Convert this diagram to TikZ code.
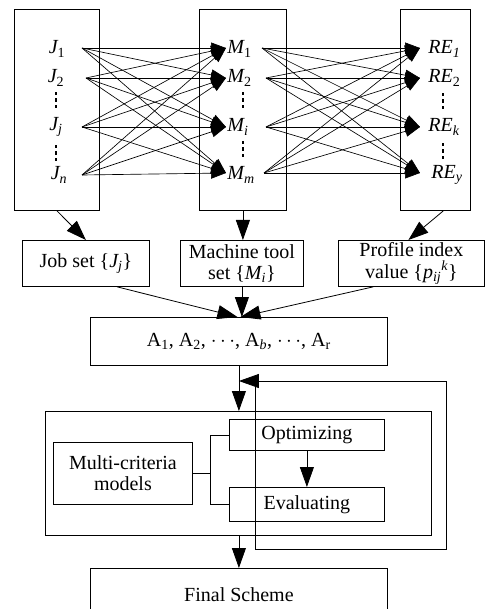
\documentclass[tikz,border=0pt]{standalone}
\usepackage{fontspec}
\setmainfont{Liberation Serif}
\usetikzlibrary{arrows.meta,calc}
% three stacked square dots (vertical ellipsis)
\newcommand\vdotmark[2]{%
  \foreach \dy in {-6.5,0,6.5}{\fill (#1-1.4,#2+\dy-1.6) rectangle (#1+1.4,#2+\dy+1.6);}}
\begin{document}
\begin{tikzpicture}[x=1pt,y=-1pt,
  every path/.style={line width=0.8pt},
  box/.style={draw,line width=0.8pt,inner sep=0pt,anchor=north west,
    font=\fontsize{20}{21.5}\selectfont,align=center},
  lbl/.style={inner sep=0pt,font=\fontsize{20}{22}\selectfont},
  cross/.style={-{Triangle[length=15pt,width=11pt]}},
  big/.style={-{Triangle[length=20pt,width=14pt]}}]
\useasboundingbox (0,0) rectangle (485,609);

% ---- sets of jobs, machines and profile elements
\node[box,minimum width=85pt,minimum height=201pt] (jbox) at (14,9) {};
\node[box,minimum width=87pt,minimum height=201pt] (mbox) at (199,9) {};
\node[box,minimum width=70pt,minimum height=201pt] (rbox) at (400,9) {};

\node[lbl] (j1) at (57,49) {{\itshape J}\textsubscript{1}};
\node[lbl] (j2) at (56,78) {{\itshape J}\textsubscript{2}};
\node[lbl] (jj) at (56,127) {{\itshape J}\textsubscript{\itshape j}};
\node[lbl] (jn) at (59,175) {{\itshape J}\textsubscript{\itshape n}};
\vdotmark{56}{100}
\vdotmark{56}{153}

\node[lbl,anchor=west] (m1) at (227,49) {{\itshape M}\textsubscript{1}};
\node[lbl,anchor=west] (m2) at (227,78) {{\itshape M}\textsubscript{2}};
\node[lbl,anchor=west] (mi) at (227,127) {{\itshape M}\textsubscript{\itshape i}};
\node[lbl,anchor=west] (mm) at (227,175) {{\itshape M}\textsubscript{\itshape m}};
\vdotmark{243}{100}
\vdotmark{243}{149}

\node[lbl,anchor=west] (r1) at (428,49) {{\itshape RE}\textsubscript{\itshape 1}};
\node[lbl,anchor=west] (r2) at (428,78) {{\itshape RE}\textsubscript{2}};
\node[lbl,anchor=west] (rk) at (428,127) {{\itshape RE}\textsubscript{\itshape k}};
\node[lbl,anchor=west] (ry) at (431,175) {{\itshape RE}\textsubscript{\itshape y}};
\vdotmark{443}{101}
\vdotmark{443}{151}

% connector end points
\coordinate (ja) at (82,48);  \coordinate (jb) at (86,78);
\coordinate (jc) at (82,127); \coordinate (jd) at (82,175);
\coordinate (ma) at (226,48); \coordinate (mb) at (226,78);
\coordinate (mc) at (226,127);\coordinate (md) at (226,173);
\coordinate (na) at (262,48); \coordinate (nb) at (266,78);
\coordinate (nc) at (266,127);\coordinate (nd) at (264,173);
\coordinate (ra) at (420,48); \coordinate (rb) at (420,78);
\coordinate (rc) at (420,127);\coordinate (rd) at (420,173);

\foreach \s in {ja,jb,jc,jd}
  \foreach \t in {ma,mb,mc,md}
    \draw[cross,line width=0.65pt] (\s) -- (\t);
\foreach \s in {na,nb,nc,nd}
  \foreach \t in {ra,rb,rc,rd}
    \draw[cross,line width=0.65pt] (\s) -- (\t);

% ---- summary boxes
\node[box,minimum width=127pt,minimum height=46pt] (job) at (22,240) {};
\node at (job.center) [font=\fontsize{20}{21.5}\selectfont] {Job set \{{\itshape J}\textsubscript{\itshape j}\}};
\node[box,minimum width=123pt,minimum height=46pt] (mach) at (180,240) {};
\node at (mach.center) [font=\fontsize{20}{21.5}\selectfont,align=center] {Machine tool\\set \{{\itshape M}\textsubscript{\itshape i}\}};
\node[box,minimum width=146pt,minimum height=46pt] (prof) at (338,240) {};
\node at (prof.center) [font=\fontsize{20}{21.5}\selectfont,align=center] {Profile index\\value \{{\itshape p}\textsubscript{\itshape ij}\textsuperscript{\itshape k}\}};

\draw[big] (jbox.south) -- (job.north);
\draw[big] (mbox.south) -- (mbox.south |- mach.north);
\draw[big] ($(rbox.south)+(8,0)$) -- ($(prof.north)+(-3,0)$);

% ---- alternatives
\node[box,minimum width=297pt,minimum height=48pt] (abox) at (90,317) {};
\node at (abox.center) [font=\fontsize{20}{21.5}\selectfont]
  {A\textsubscript{1}, A\textsubscript{2}, $\cdots$, A\textsubscript{\itshape b}, $\cdots$, A\textsubscript{r}};

\draw[big] ($(job.south)+(31,0)$) -- ($(abox.north)+(-1.5,0)$);
\draw[big] (mach.south) -- (mach.south |- abox.north);
\draw[big] ($(prof.south)+(-38,0)$) -- ($(abox.north)+(1.5,0)$);

% ---- decision block
\node[box,minimum width=386pt,minimum height=124pt] (outer) at (45,411) {};
\node[box,minimum width=139pt,minimum height=62pt] (multi) at (53,442) {};
\node at (multi.center) [font=\fontsize{20}{21.5}\selectfont,align=center] {Multi-criteria\\models};
\node[box,minimum width=155pt,minimum height=31pt] (opt) at (229,419) {};
\node at (opt.center) [font=\fontsize{20}{21.5}\selectfont] {Optimizing};
\node[box,minimum width=155pt,minimum height=34pt] (eval) at (229,487) {};
\node at (eval.center) [font=\fontsize{20}{21.5}\selectfont] {Evaluating};

\draw (multi.east) -- ++(18,0) |- (opt.west);
\draw (multi.east) -- ++(18,0) |- (eval.west);
\draw[big] (opt.south) -- (eval.north);

\draw[big] (abox.south) -- (abox.south |- outer.north);

% feedback loop
\coordinate (fa) at (255,381);
\coordinate (fb) at (446,549);
\draw (fa) rectangle (fb);
\draw[big] (fa) -- (abox.south |- fa);

% ---- result
\node[box,minimum width=297pt,minimum height=52pt] (final) at (90,568) {};
\node at (final.center) [font=\fontsize{20}{21.5}\selectfont] {Final Scheme};
\draw[big] (abox.south |- outer.south) -- (abox.south |- final.north);
\end{tikzpicture}
\end{document}
